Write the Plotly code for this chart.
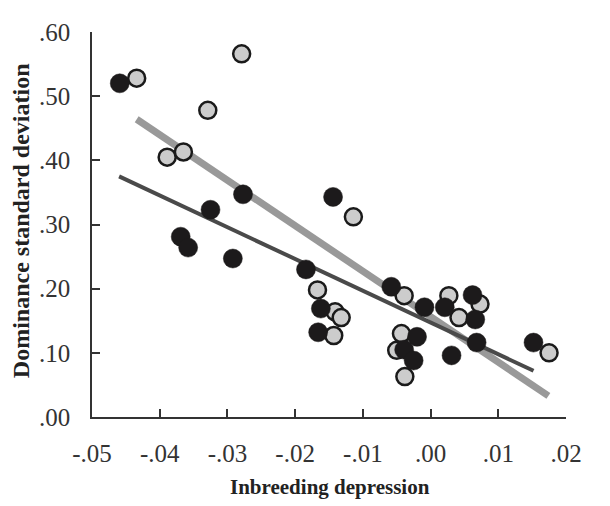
import plotly.graph_objects as go

# Dark (black) series
black_x = [-0.0459, -0.0277, -0.0325, -0.0144, -0.0369, -0.0358, -0.0292, -0.0184,
           -0.0162, -0.0166, -0.0058, -0.0009, 0.0021, 0.0062, 0.0066, 0.0068,
           0.0031, 0.0152, -0.0020, -0.0039, -0.0025]
black_y = [0.520, 0.347, 0.323, 0.343, 0.281, 0.264, 0.247, 0.230,
           0.169, 0.132, 0.203, 0.171, 0.171, 0.190, 0.152, 0.116,
           0.096, 0.116, 0.125, 0.105, 0.088]

# Light (gray) series
gray_x = [-0.0434, -0.0279, -0.0329, -0.0389, -0.0365, -0.0114, -0.0167, -0.0141,
          -0.0132, -0.0143, -0.0039, 0.0027, 0.0073, 0.0042, 0.0175, -0.0043,
          -0.0050, -0.0038]
gray_y = [0.528, 0.566, 0.478, 0.405, 0.413, 0.312, 0.198, 0.164,
          0.155, 0.127, 0.189, 0.189, 0.176, 0.155, 0.100, 0.130,
          0.104, 0.063]

# Fit lines (endpoints)
gray_fit_x = [-0.0434, 0.0174]
gray_fit_y = [0.464, 0.033]
black_fit_x = [-0.0460, 0.0152]
black_fit_y = [0.375, 0.072]

x_ticks = [-0.05, -0.04, -0.03, -0.02, -0.01, 0.00, 0.01, 0.02]
x_tick_labels = ["-.05", "-.04", "-.03", "-.02", "-.01", ".00", ".01", ".02"]
y_ticks = [0.0, 0.1, 0.2, 0.3, 0.4, 0.5, 0.6]
y_tick_labels = [".00", ".10", ".20", ".30", ".40", ".50", ".60"]

FONT = "Liberation Serif, Times New Roman, serif"

fig = go.Figure()
fig.add_trace(go.Scatter(x=gray_fit_x, y=gray_fit_y, mode="lines",
                         line=dict(color="#999999", width=7), hoverinfo="skip"))
fig.add_trace(go.Scatter(x=black_fit_x, y=black_fit_y, mode="lines",
                         line=dict(color="#4a4a4a", width=4), hoverinfo="skip"))
fig.add_trace(go.Scatter(x=gray_x, y=gray_y, mode="markers",
                         marker=dict(size=17, color="#cccccc",
                                     line=dict(color="#1a1a1a", width=2.5))))
fig.add_trace(go.Scatter(x=black_x, y=black_y, mode="markers",
                         marker=dict(size=19, color="#1c1a1b",
                                     line=dict(color="#1c1a1b", width=0.5))))

axis_common = dict(showgrid=False, zeroline=False, showline=True, linecolor="#333333",
                   linewidth=1.5, ticks="inside", ticklen=8, tickwidth=1.5,
                   tickcolor="#333333", mirror=False, ticklabeloverflow="allow",
                   tickfont=dict(family=FONT, size=25, color="#333333"))

fig.update_xaxes(range=[-0.05, 0.02], tickvals=x_ticks, ticktext=x_tick_labels,
                 ticklabelstandoff=13, **axis_common)
fig.update_yaxes(range=[0, 0.6], tickvals=y_ticks, ticktext=y_tick_labels,
                 ticklabelstandoff=15, **axis_common)

fig.add_annotation(text="<b>Inbreeding depression</b>", xref="paper", yref="paper",
                   x=0.502, y=-0.183, xanchor="center", yanchor="middle", showarrow=False,
                   font=dict(family=FONT, size=21, color="#222222"))
fig.add_annotation(text="<b>Dominance standard deviation</b>", xref="paper", yref="paper",
                   x=-0.150, y=0.511, xanchor="center", yanchor="middle", showarrow=False,
                   textangle=-90, font=dict(family=FONT, size=24, color="#222222"))

fig.update_layout(width=602, height=498, showlegend=False,
                  plot_bgcolor="white", paper_bgcolor="white",
                  margin=dict(l=84, r=44, t=11, b=89))

fig.write_html("out.html")
